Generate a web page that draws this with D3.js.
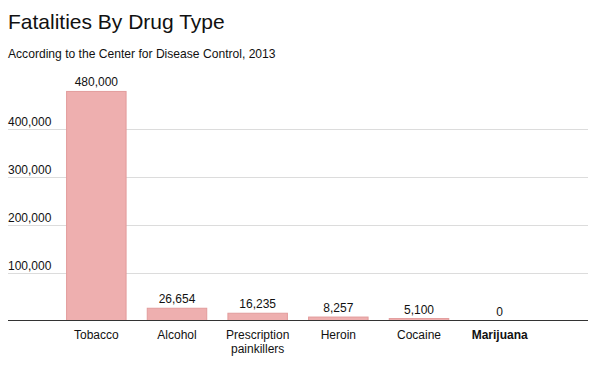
<!DOCTYPE html>
<html>
<head>
<meta charset="utf-8">
<script src="https://cdn.jsdelivr.net/npm/d3@7"></script>
<style>
  body { margin: 0; background: #fff; }
  svg text { font-family: "Helvetica Neue", Helvetica, Arial, "Liberation Sans", sans-serif; fill: #111; }
</style>
</head>
<body>
<div id="chart"></div>
<script>
// Data
const drugs = ["Tobacco", "Alcohol", "Prescription painkillers", "Heroin", "Cocaine", "Marijuana"];
const deaths = [480000, 26654, 16235, 8257, 5100, 0];
const yTicks = [100000, 200000, 300000, 400000];

const W = 616, H = 376;
const left = 8, right = 588, bottom = 320.5;

const svg = d3.select("#chart")
    .append("svg")
    .attr("width", W)
    .attr("height", H);

// Title
svg.append("text")
    .attr("x", 8)
    .attr("y", 29)
    .style("font-size", "21px")
    .style("font-weight", 300)
    .text("Fatalities By Drug Type");

svg.append("text")
    .attr("x", 8)
    .attr("y", 57.5)
    .style("font-size", "12.1px")
    .text("According to the Center for Disease Control, 2013");

// Scales
const x = d3.scaleBand()
    .domain(drugs)
    .range([left, right])
    .paddingInner(0.25)
    .paddingOuter(0.72);

const y = d3.scaleLinear()
    .domain([0, 400000])
    .range([bottom, 129.2]);

const fmt = d3.format(",");

// Gridlines + labels
const grid = svg.append("g")
    .selectAll("g")
    .data(yTicks)
    .join("g")
    .attr("transform", d => `translate(0, ${Math.round(y(d)) + 0.5})`);

grid.append("line")
    .attr("x1", left)
    .attr("x2", right)
    .attr("stroke", "#dcdcdc")
    .attr("stroke-width", 1);

grid.append("text")
    .attr("x", left)
    .attr("y", -4)
    .style("font-size", "12px")
    .text(d => fmt(d));

// Bars
const data = drugs.map((d, i) => ({ drug: d, value: deaths[i] }));

svg.append("g")
    .selectAll("rect")
    .data(data.filter(d => d.value > 0))
    .join("rect")
    .attr("x", d => x(d.drug) + 0.5)
    .attr("y", d => y(d.value) + 0.5)
    .attr("width", x.bandwidth() - 1)
    .attr("height", d => Math.max(0, bottom - y(d.value) - 0.5))
    .attr("fill", "#eeafaf")
    .attr("stroke", "#e29c9c")
    .attr("stroke-width", 1);

// Value labels
svg.append("g")
    .selectAll("text")
    .data(data)
    .join("text")
    .attr("x", d => x(d.drug) + x.bandwidth() / 2)
    .attr("y", d => y(d.value) - 4.5)
    .attr("text-anchor", "middle")
    .style("font-size", "12px")
    .text(d => fmt(d.value));

// Axis line
svg.append("line")
    .attr("x1", left)
    .attr("x2", right)
    .attr("y1", bottom)
    .attr("y2", bottom)
    .attr("stroke", "#333")
    .attr("stroke-width", 1.2);

// Category labels (wrap two-word long label)
const cats = svg.append("g")
    .selectAll("text")
    .data(drugs)
    .join("text")
    .attr("x", d => x(d) + x.bandwidth() / 2)
    .attr("y", 338.5)
    .attr("text-anchor", "middle")
    .style("font-size", "12px")
    .style("font-weight", d => d === "Marijuana" ? "bold" : "normal");

cats.each(function(d) {
    const t = d3.select(this);
    const words = d === "Prescription painkillers" ? d.split(" ") : [d];
    words.forEach((w, i) => {
        t.append("tspan")
            .attr("x", x(d) + x.bandwidth() / 2)
            .attr("dy", i === 0 ? 0 : 14.5)
            .text(w);
    });
});
</script>
</body>
</html>
